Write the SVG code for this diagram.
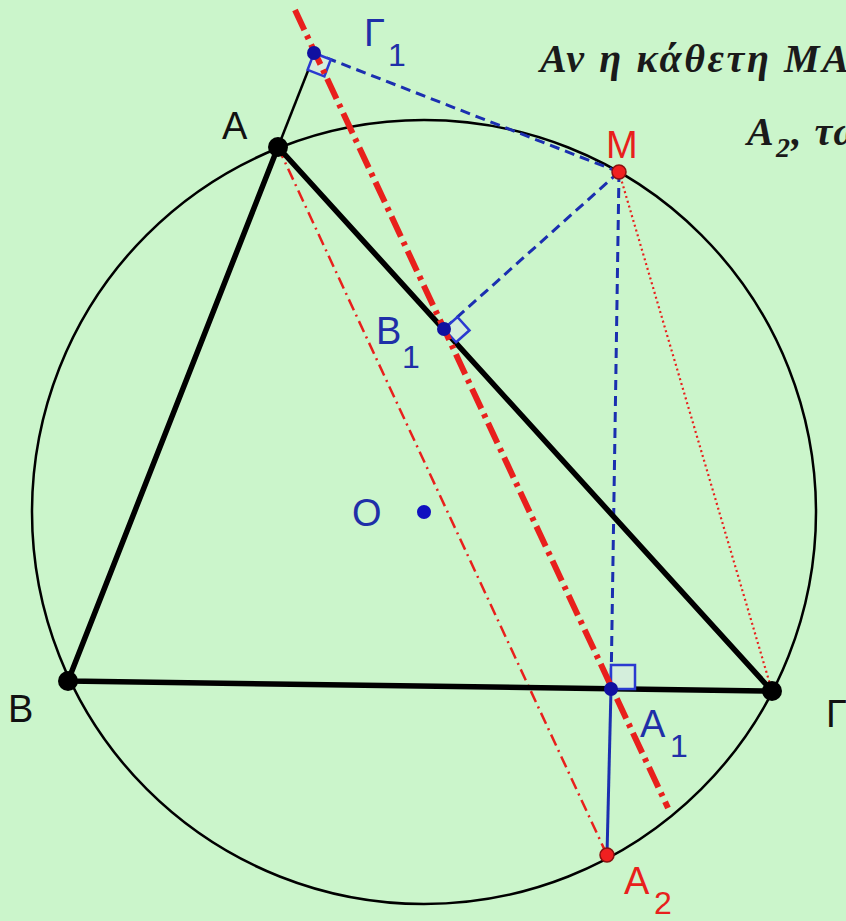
<svg xmlns="http://www.w3.org/2000/svg" width="846" height="921" viewBox="0 0 846 921">
<style>
.lbl{font-family:"Liberation Sans",Arial,sans-serif;font-size:38px}
.sub{font-size:32px}
.blue{fill:#1f2fa8}
.red{fill:#e8201c}
.blk{fill:#111}
.note{font-family:"Liberation Serif","Times New Roman",serif;font-style:italic;font-weight:bold;font-size:40px;fill:#1a1a1a;letter-spacing:1.5px}
.ra{fill:#d4eedc;stroke:#2a3ad0;stroke-width:2.5}
</style>
<rect width="846" height="921" fill="#cbf5cb"/>
<g id="connectors" fill="none">
  <circle id="circle" cx="424" cy="512" r="392" stroke="#000" stroke-width="2.5"/>
  <line x1="278" y1="147" x2="315" y2="53" stroke="#000" stroke-width="2.5"/>
  <line x1="619" y1="172" x2="314" y2="53" stroke="#1b2fb0" stroke-width="3" stroke-dasharray="10 6"/>
  <line x1="619" y1="172" x2="444" y2="329" stroke="#1b2fb0" stroke-width="3" stroke-dasharray="10 6"/>
  <line x1="619" y1="172" x2="611" y2="689" stroke="#1b2fb0" stroke-width="3" stroke-dasharray="10 6"/>
  <line x1="611" y1="689" x2="607" y2="855" stroke="#1b2fb0" stroke-width="3"/>
  <line x1="619" y1="172" x2="772" y2="691" stroke="#e8201c" stroke-width="2.2" stroke-dasharray="2 3"/>
  <line x1="278" y1="147" x2="607" y2="855" stroke="#e8201c" stroke-width="2.5" stroke-dasharray="12 5 2 5"/>
  <polygon points="278,147 68,681 772,691" stroke="#000" stroke-width="5.5" stroke-linejoin="round"/>
  <polygon class="ra" points="314,53 330.8,59.5 324.4,76.3 307.6,69.8"/>
  <polygon class="ra" points="444,329 457.4,317 469.5,330.3 456.1,342.3"/>
  <polygon class="ra" points="611,689 611,665 635,665 635,689"/>
  <line x1="295" y1="10" x2="668" y2="808" stroke="#e8201c" stroke-width="6" stroke-dasharray="22 6 4 6"/>
</g>
<g id="A"><circle cx="278" cy="147" r="10" fill="#000"/><text class="lbl blk" x="222" y="139">A</text></g>
<g id="B"><circle cx="68" cy="681" r="10" fill="#000"/><text class="lbl blk" x="8" y="722">B</text></g>
<g id="Gamma"><circle cx="772" cy="691" r="10" fill="#000"/><text class="lbl blk" x="826" y="727">Γ</text></g>
<g id="M"><circle cx="619" cy="172" r="7" fill="#f02020" stroke="#8a1010" stroke-width="1.5"/><text class="lbl red" x="606" y="158">M</text></g>
<g id="Gamma1"><circle cx="314" cy="53" r="7" fill="#1010a0"/><text class="lbl blue" x="364" y="46">Γ<tspan class="sub" x="388" y="66">1</tspan></text></g>
<g id="B1"><circle cx="444" cy="329" r="7" fill="#1010a0"/><text class="lbl blue" x="376" y="344">B<tspan class="sub" x="402" y="368">1</tspan></text></g>
<g id="A1"><circle cx="611" cy="689" r="7" fill="#1010a0"/><text class="lbl blue" x="640" y="737">A<tspan class="sub" x="670" y="757">1</tspan></text></g>
<g id="A2"><circle cx="607" cy="855" r="7" fill="#f02020" stroke="#8a1010" stroke-width="1.5"/><text class="lbl red" x="624" y="894">A<tspan class="sub" x="654" y="914">2</tspan></text></g>
<g id="O"><circle cx="424" cy="512" r="7" fill="#1010c0"/><text class="lbl blue" x="352" y="526">O</text></g>
<g id="note">
  <text class="note" x="540" y="72" style="letter-spacing:2.6px">Αν η κάθετη ΜΑ</text>
  <text class="note" x="747" y="145">Α<tspan font-size="28" x="776" dy="12">2</tspan><tspan dy="-12">, τω</tspan></text>
</g>
</svg>
